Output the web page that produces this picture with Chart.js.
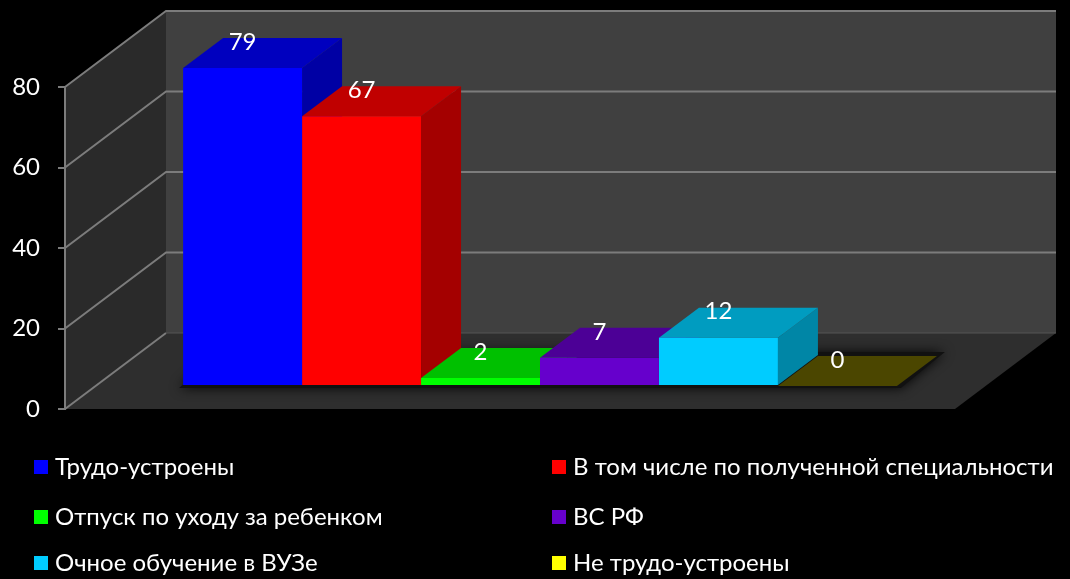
<!DOCTYPE html>
<html>
<head>
<meta charset="utf-8">
<script src="https://cdn.jsdelivr.net/npm/chart.js@4.4.1/dist/chart.umd.min.js"></script>
<style>
    html, body { margin: 0; padding: 0; background: #000; }
    #wrap { width: 1070px; height: 579px; }
</style>
</head>
<body>
<div id="wrap"><canvas id="chart" width="1070" height="579"></canvas></div>
<script>
// ─── Data ────────────────────────────────────────────────
const seriesNames = [
    'Трудо-устроены',
    'В том числе по полученной специальности',
    'Отпуск по уходу за ребенком',
    'ВС РФ',
    'Очное обучение в ВУЗе',
    'Не трудо-устроены'
];
const seriesValues = [79, 67, 2, 7, 12, 0];
const yTickValues = [0, 20, 40, 60, 80];

// face colours: front / top / side
const frontColors = ['#0000ff', '#ff0000', '#00ff00', '#6600cc', '#00ccff', '#ffff00'];
const topColors   = ['#0000bf', '#c00000', '#00c000', '#4c0096', '#009cc0', '#4b4600'];
const sideColors  = ['#0000a4', '#a40000', '#00a400', '#400080', '#0086a6', '#3c3800'];

const FONT = 'Lato, "Liberation Sans", sans-serif';

// 3D geometry (pixels)
const WALL_DX = 101, WALL_DY = -76;   // full floor depth
const BAR_DX = 30, BAR_DY = -23;      // bar front plane offset
const BAR_DEPTH_X = 40, BAR_DEPTH_Y = -30;

function poly(ctx, pts, fill) {
    ctx.beginPath();
    ctx.moveTo(pts[0][0], pts[0][1]);
    for (let i = 1; i < pts.length; i++) ctx.lineTo(pts[i][0], pts[i][1]);
    ctx.closePath();
    ctx.fillStyle = fill;
    ctx.fill();
}

const scene3d = {
    id: 'scene3d',
    beforeDraw(chart) {
        const { ctx, chartArea: a, scales } = chart;
        const y = scales.y;
        const L = a.left, R = a.right, T = a.top, B = a.bottom;

        ctx.save();
        ctx.fillStyle = '#000';
        ctx.fillRect(0, 0, chart.width, chart.height);

        // back wall
        poly(ctx, [[L + WALL_DX, T + WALL_DY], [R + WALL_DX, T + WALL_DY], [R + WALL_DX, B + WALL_DY], [L + WALL_DX, B + WALL_DY]], '#404040');
        // left wall
        poly(ctx, [[L, T], [L + WALL_DX, T + WALL_DY], [L + WALL_DX, B + WALL_DY], [L, B]], '#2a2a2a');
        // floor
        poly(ctx, [[L, B], [R, B], [R + WALL_DX, B + WALL_DY], [L + WALL_DX, B + WALL_DY]], '#2e2e2e');

        // gridlines: diagonal on left wall, horizontal on back wall
        ctx.strokeStyle = '#7c7c7c';
        ctx.lineWidth = 2;
        yTickValues.forEach(v => {
            const py = y.getPixelForValue(v);
            ctx.beginPath();
            ctx.moveTo(L, py);
            ctx.lineTo(L + WALL_DX, py + WALL_DY);
            if (v !== 0) ctx.lineTo(R + WALL_DX, py + WALL_DY);
            ctx.stroke();
        });
        // floor/back wall join and left wall front edge
        ctx.strokeStyle = '#555';
        ctx.lineWidth = 1;
        ctx.beginPath();
        ctx.moveTo(L + WALL_DX, B + WALL_DY);
        ctx.lineTo(R + WALL_DX, B + WALL_DY);
        ctx.stroke();

        // shadow of bars on floor
        const metas = chart.getSortedVisibleDatasetMetas();
        const first = metas.find(m => m.index === 0).data[0];
        const last = metas.find(m => m.index === seriesValues.length - 1).data[0];
        const x0 = first.x - first.width / 2 + BAR_DX;
        const x1 = last.x + last.width / 2 + BAR_DX;
        const by = first.base + BAR_DY;
        ctx.shadowColor = 'rgba(0,0,0,0.9)';
        ctx.shadowBlur = 12;
        poly(ctx, [[x0 - 4, by + 3], [x1 + 4, by + 3], [x1 + BAR_DEPTH_X + 8, by + BAR_DEPTH_Y - 3], [x0 + BAR_DEPTH_X - 4, by + BAR_DEPTH_Y - 3]], '#111');
        ctx.restore();
    },
    beforeDatasetsDraw(chart) {
        const { ctx } = chart;
        ctx.save();
        ctx.translate(BAR_DX, BAR_DY);
        // side and top faces, left to right; fronts are drawn over them by Chart.js
        seriesValues.forEach((val, i) => {
            const el = chart.getDatasetMeta(i).data[0];
            const l = el.x - el.width / 2, r = el.x + el.width / 2;
            const t = el.y, b = el.base;
            poly(ctx, [[r, t], [r + BAR_DEPTH_X, t + BAR_DEPTH_Y], [r + BAR_DEPTH_X, b + BAR_DEPTH_Y], [r, b]], sideColors[i]);
            poly(ctx, [[l, t], [r, t], [r + BAR_DEPTH_X, t + BAR_DEPTH_Y], [l + BAR_DEPTH_X, t + BAR_DEPTH_Y]], topColors[i]);
        });
    },
    afterDatasetsDraw(chart) {
        const { ctx } = chart;
        // value labels near the back edge of each top face
        ctx.fillStyle = '#fff';
        ctx.font = '24px ' + FONT;
        ctx.textAlign = 'center';
        ctx.textBaseline = 'middle';
        seriesValues.forEach((val, i) => {
            const el = chart.getDatasetMeta(i).data[0];
            ctx.fillText(String(val), el.x, el.y + BAR_DEPTH_Y + 4);
        });
        ctx.restore();
    },
    afterDraw(chart) {
        // two-column legend
        const { ctx } = chart;
        const colX = [34, 552];
        const rowY = [467, 517, 563];
        ctx.save();
        ctx.font = '24px ' + FONT;
        ctx.textBaseline = 'middle';
        ctx.textAlign = 'left';
        seriesNames.forEach((name, i) => {
            const x = colX[i % 2], yy = rowY[Math.floor(i / 2)];
            ctx.fillStyle = frontColors[i];
            ctx.fillRect(x, yy - 7, 14, 14);
            ctx.fillStyle = '#fff';
            ctx.fillText(name, x + 21, yy);
        });
        ctx.restore();
    }
};

new Chart(document.getElementById('chart'), {
    type: 'bar',
    data: {
        labels: [''],
        datasets: seriesNames.map((name, i) => ({
            label: name,
            data: [seriesValues[i]],
            backgroundColor: frontColors[i],
            borderWidth: 0,
            clip: false,
            categoryPercentage: 0.802,
            barPercentage: 1.0
        }))
    },
    options: {
        responsive: false,
        animation: false,
        devicePixelRatio: 1,
        layout: { padding: { left: 0, right: 115, top: 87, bottom: 170 } },
        plugins: {
            legend: { display: false },
            tooltip: { enabled: false }
        },
        scales: {
            x: { display: false },
            y: {
                min: 0,
                max: 80,
                afterFit: s => { s.width = 65; },
                afterBuildTicks: s => { s.ticks = yTickValues.map(v => ({ value: v })); },
                ticks: {
                    color: '#fff',
                    padding: 18,
                    font: { family: FONT, size: 24 }
                },
                grid: {
                    drawOnChartArea: false,
                    drawTicks: true,
                    tickLength: 7,
                    color: '#7c7c7c',
                    lineWidth: 2
                },
                border: { display: true, color: '#7c7c7c', width: 2 }
            }
        }
    },
    plugins: [scene3d]
});
</script>
</body>
</html>
